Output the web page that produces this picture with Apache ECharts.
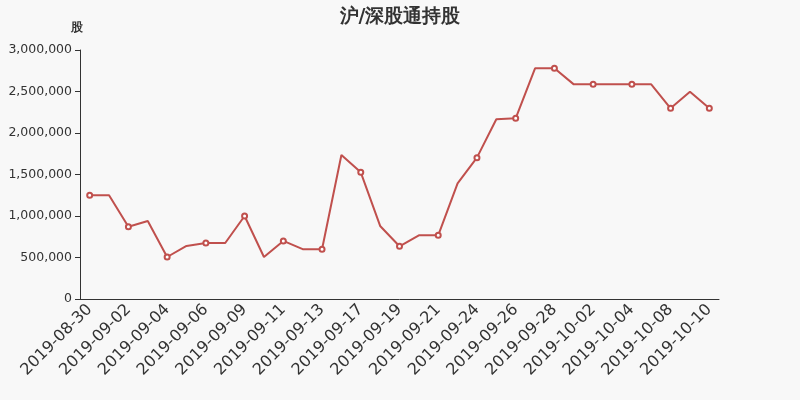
<!DOCTYPE html>
<html>
<head>
<meta charset="utf-8">
<script src="https://cdn.jsdelivr.net/npm/echarts@6/dist/echarts.min.js"></script>
<style>html,body{margin:0;padding:0;background:#f8f8f8;}#c{width:800px;height:400px;}</style>
</head>
<body>
<div id="c"></div>
<script>
var titleText = '沪/深股通持股';
var yName = '股';
var categories = ['2019-08-30','2019-08-31','2019-09-02','2019-09-03','2019-09-04','2019-09-05','2019-09-06','2019-09-07','2019-09-09','2019-09-10','2019-09-11','2019-09-12','2019-09-13','2019-09-16','2019-09-17','2019-09-18','2019-09-19','2019-09-20','2019-09-21','2019-09-23','2019-09-24','2019-09-25','2019-09-26','2019-09-27','2019-09-28','2019-09-30','2019-10-02','2019-10-03','2019-10-04','2019-10-07','2019-10-08','2019-10-09','2019-10-10'];
var holdings = [1250000,1250000,870000,940000,506000,639000,675000,675000,1000000,506000,700000,600000,600000,1735000,1526000,880000,635000,767000,767000,1394000,1703000,2165000,2177000,2779000,2779000,2586000,2586000,2586000,2586000,2586000,2297000,2498000,2297000];

var chart = echarts.init(document.getElementById('c'));
chart.setOption({
  backgroundColor: '#f8f8f8',
  animation: false,
  title: {
    text: titleText,
    left: 'center',
    top: 3,
    textStyle: { fontSize: 19, fontWeight: 'bold', color: '#333', fontFamily: 'DejaVu Sans' }
  },
  grid: { left: 80, right: 81, top: 50, bottom: 101 },
  xAxis: {
    type: 'category',
    data: categories,
    axisLine: { lineStyle: { color: '#333' } },
    axisTick: { lineStyle: { color: '#333' } },
    axisLabel: { rotate: 45, fontSize: 16, color: '#333', fontFamily: 'DejaVu Sans', interval: 1 }
  },
  yAxis: {
    type: 'value',
    name: yName,
    min: 0,
    max: 3000000,
    interval: 500000,
    nameGap: 16,
    nameTextStyle: { color: '#333', fontSize: 12, fontWeight: 'bold', fontFamily: 'DejaVu Sans', align: 'right', padding: [0, -3, 0, 0] },
    axisLine: { show: true, lineStyle: { color: '#333' } },
    axisTick: { show: true, lineStyle: { color: '#333' } },
    splitLine: { show: false },
    axisLabel: {
      color: '#333', fontSize: 12.5, fontFamily: 'DejaVu Sans',
      formatter: function (v) { return v.toLocaleString('en-US'); }
    }
  },
  series: [{
    type: 'line',
    data: holdings,
    symbol: 'emptyCircle',
    symbolSize: 5,
    showAllSymbol: false,
    lineStyle: { color: '#c0504d', width: 2 },
    itemStyle: { color: '#c0504d', borderWidth: 1 }
  }]
});
</script>
</body>
</html>
